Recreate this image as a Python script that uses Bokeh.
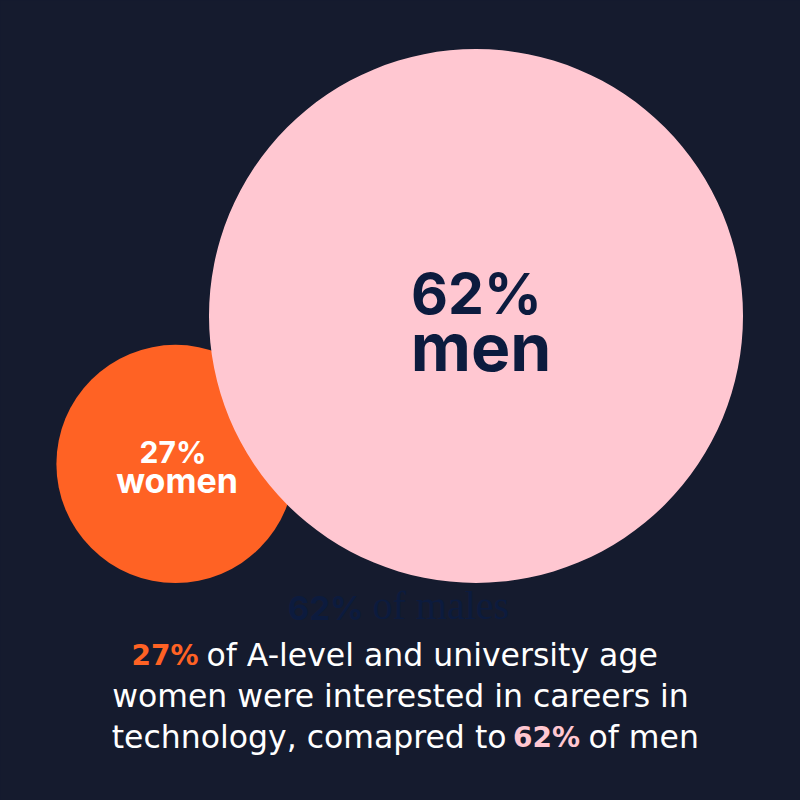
from bokeh.plotting import figure
from bokeh.models import Range1d, ColumnDataSource
from bokeh.core.properties import value
from bokeh.embed import file_html
from bokeh.resources import INLINE

# ---- data ----
groups = ["women", "men"]
percents = [27, 62]
subtitle_value = "62%"
subtitle_text = "of males"
caption_line1 = ["27%", "of A-level and university age"]
caption_line2 = ["women were interested in careers in"]
caption_line3 = ["technology, comapred to", "62%", "of men"]

# ---- style / layout ----
BG = "#151b2e"
ORANGE = "#ff6224"
PINK = "#ffc7d1"
NAVY = "#0c1b3e"
WHITE = "#ffffff"
FONT = "Inter"
CAPFONT = "DejaVu Sans"
SERIF = "Liberation Serif"
BASE_FIX = 0.38   # baseline correction, in em


def by(baseline_px, size_px):
    """data y for a wanted baseline (measured from the top of the picture)"""
    return 800 - baseline_px + BASE_FIX * size_px


cx = [175, 475.5]
base_y = 800 - 582.5            # circles share a common bottom line
r_scale = (5.0, 4.226)          # radius = a + b * percent
radii = [r_scale[0] + r_scale[1] * v for v in percents]
cy = [base_y + r for r in radii]
fill = [ORANGE, PINK]

p = figure(width=800, height=800, output_backend="svg", toolbar_location=None,
           x_range=Range1d(0, 800), y_range=Range1d(0, 800), min_border=0)
p.axis.visible = False
p.grid.visible = False
p.outline_line_color = None
p.background_fill_color = BG
p.border_fill_color = BG

src = ColumnDataSource(dict(x=cx, y=cy, r=radii, c=fill))
p.circle(x="x", y="y", radius="r", fill_color="c", line_color=None, source=src)


def txt(x, y, s, color, font, size, bold=False, align="center"):
    p.text(x=[x], y=[y], text=[s], text_color=color, text_font=value(font),
           text_font_style="bold" if bold else "normal", text_font_size=f"{size}px",
           text_align=align, text_baseline="alphabetic")


# in-circle labels
txt(cx[0] - 2.5, by(463, 30), f"{percents[0]}%", WHITE, FONT, 30, True)
txt(cx[0] + 1.5, by(493, 34), groups[0], WHITE, FONT, 34, True)
txt(cx[1] + 0.5, by(315, 57), f"{percents[1]}%", NAVY, FONT, 57, True)
txt(cx[1] + 5, by(372, 66), groups[1], NAVY, FONT, 66, True)

# faint subtitle
txt(363, by(620, 33), subtitle_value, NAVY, FONT, 33, True, "right")
txt(372, by(620, 40), subtitle_text, NAVY, SERIF, 40, False, "left")

# caption
CAP = 31.5
BCAP = 28
txt(198, by(666, BCAP), caption_line1[0], ORANGE, CAPFONT, BCAP, True, "right")
txt(206, by(666, CAP), caption_line1[1], WHITE, CAPFONT, CAP, False, "left")
txt(400, by(707, CAP), caption_line2[0], WHITE, CAPFONT, CAP, False, "center")
txt(506, by(748, CAP), caption_line3[0], WHITE, CAPFONT, CAP, False, "right")
txt(546, by(748, BCAP), caption_line3[1], PINK, CAPFONT, BCAP, True, "center")
txt(588, by(748, CAP), caption_line3[2], WHITE, CAPFONT, CAP, False, "left")

template = """{% block postamble %}<style>html, body { background: #151b2e; }</style>{% endblock %}"""

open("out.html", "w").write(file_html(p, INLINE, template=template))
